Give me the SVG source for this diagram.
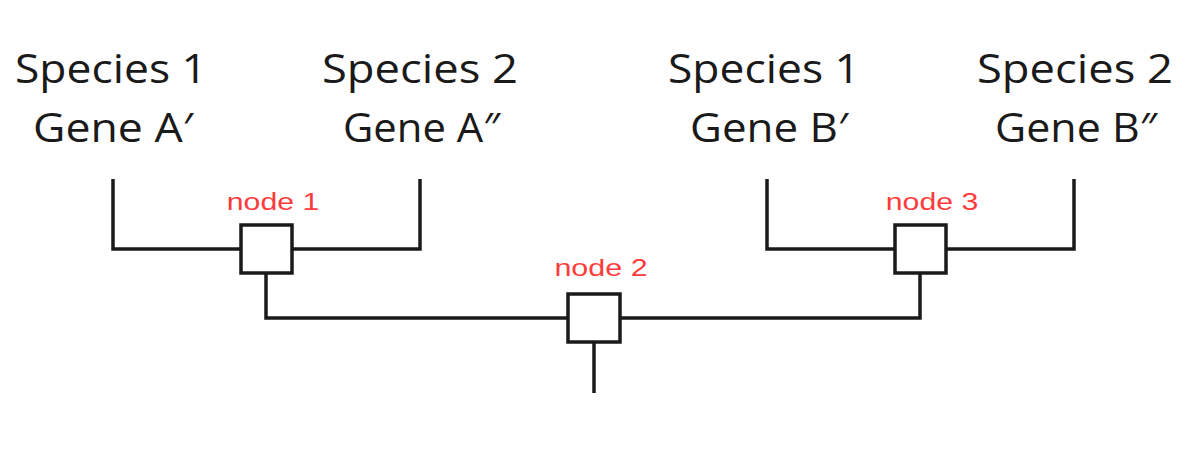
<svg xmlns="http://www.w3.org/2000/svg" width="1200" height="470" viewBox="0 0 1200 470">
<style>
.lbl{font-family:"Open Sans","Liberation Sans",sans-serif;font-size:40px;fill:#1a1a1a}
.red{font-family:"Liberation Sans",Arial,sans-serif;font-size:24px;fill:#ff3b3b;text-anchor:middle}
.ln{fill:none;stroke:#1a1a1a;stroke-width:3.5;stroke-linecap:butt;stroke-linejoin:miter}
.box{fill:#ffffff;stroke:#1a1a1a;stroke-width:3.5}
</style>
<rect width="1200" height="470" fill="#ffffff"/>
<g id="connectors">
<path class="ln" d="M113,179 V249 H241"/>
<path class="ln" d="M420,179 V249 H292"/>
<path class="ln" d="M767,179 V249 H895"/>
<path class="ln" d="M1074,179 V249 H946"/>
<path class="ln" d="M266,274 V318 H568"/>
<path class="ln" d="M920,274 V318 H620"/>
<path class="ln" d="M594,343 V393"/>
</g>
<g id="leaf-s1-a"><text class="lbl" x="15" y="83" textLength="192" lengthAdjust="spacingAndGlyphs">Species 1</text><text class="lbl" x="33" y="142" textLength="160" lengthAdjust="spacingAndGlyphs">Gene A′</text></g>
<g id="leaf-s2-a"><text class="lbl" x="322" y="83" textLength="196" lengthAdjust="spacingAndGlyphs">Species 2</text><text class="lbl" x="343" y="142" textLength="157" lengthAdjust="spacingAndGlyphs">Gene A″</text></g>
<g id="leaf-s1-b"><text class="lbl" x="668" y="83" textLength="192" lengthAdjust="spacingAndGlyphs">Species 1</text><text class="lbl" x="690" y="142" textLength="158" lengthAdjust="spacingAndGlyphs">Gene B′</text></g>
<g id="leaf-s2-b"><text class="lbl" x="977" y="83" textLength="196" lengthAdjust="spacingAndGlyphs">Species 2</text><text class="lbl" x="995" y="142" textLength="162" lengthAdjust="spacingAndGlyphs">Gene B″</text></g>
<g id="node1"><rect class="box" x="241" y="225" width="51" height="48"/><text class="red" transform="translate(273,210) scale(1.26,1)">node 1</text></g>
<g id="node2"><rect class="box" x="568" y="294" width="52" height="48"/><text class="red" transform="translate(601,276) scale(1.27,1)">node 2</text></g>
<g id="node3"><rect class="box" x="895" y="225" width="51" height="48"/><text class="red" transform="translate(932,210) scale(1.26,1)">node 3</text></g>
</svg>
